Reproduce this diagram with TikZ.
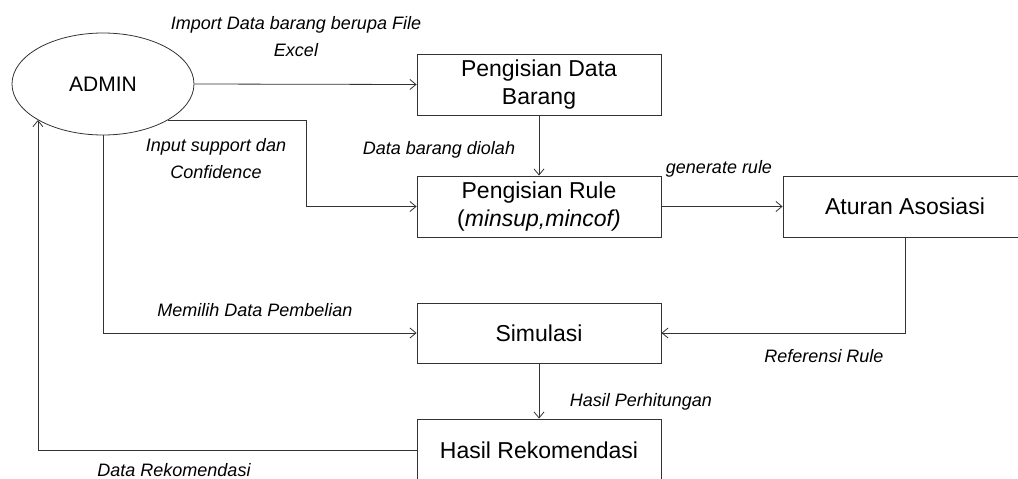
\documentclass[tikz,border=0pt]{standalone}
\usepackage{fontspec}
\setmainfont{Liberation Sans}
\usetikzlibrary{shapes.geometric,arrows.meta}
\definecolor{linecol}{HTML}{333333}
\tikzset{
  boxnode/.style={draw=linecol,line width=0.9pt,rectangle,minimum width=244pt,minimum height=61pt,inner sep=0pt,align=center,font=\fontsize{23}{28}\selectfont},
  lbl/.style={inner sep=0pt,align=center,font=\fontsize{18}{27}\selectfont\itshape},
  arr/.style={draw=linecol,line width=0.8pt,-{Straight Barb[length=6pt,width=10pt]}},
  conn/.style={draw=linecol,line width=0.8pt}
}
\begin{document}
\begin{tikzpicture}[x=1pt,y=-1pt]
\useasboundingbox (0,0) rectangle (1018,479);
\clip (0,0) rectangle (1018,479);
% nodes
\node[ellipse,draw=linecol,line width=0.8pt,minimum width=182pt,minimum height=102pt,inner sep=0pt,font=\fontsize{21}{25}\selectfont] (admin) at (103,84) {ADMIN};
\node[boxnode] (barang) at (539,84.5) {Pengisian Data\\Barang};
\node[boxnode] (rule) at (539,206.5) {Pengisian Rule\\(\textit{minsup,mincof)}};
\node[boxnode] (aturan) at (905,206.5) {Aturan Asosiasi};
\node[boxnode,minimum height=60pt] (simulasi) at (539,333) {Simulasi};
\node[boxnode,minimum height=62pt] (hasil) at (539,450) {Hasil Rekomendasi};
% helper coordinates
\coordinate (k1) at (306,0);
% connectors
\draw[arr] (admin.east) -- (barang.west);
\draw[arr] (barang.south) -- (rule.north);
\draw[arr] (admin.-29.4) -- (admin.-29.4 -| k1) |- (rule.west);
\draw[arr] (rule.east) -- (aturan.west);
\draw[arr] (aturan.south) |- (simulasi.east);
\draw[arr] (admin.south) |- (simulasi.west);
\draw[arr] (simulasi.south) -- (hasil.north);
\draw[arr] (hasil.west) -| (admin.-151);
% labels
\node[lbl] (l1) at (296,36.5) {Import Data barang berupa File\\Excel};
\node[lbl] (l2) at (439,150) {Data barang diolah};
\node[lbl] (l3) at (216,158.5) {Input support dan\\Confidence};
\node[lbl] (l4) at (719,169) {generate rule};
\node[lbl] (l5) at (255,310) {Memilih Data Pembelian};
\node[lbl] (l6) at (824,356) {Referensi Rule};
\node[lbl] (l7) at (641,402) {Hasil Perhitungan};
\node[lbl] (l8) at (174,470) {Data Rekomendasi};
\end{tikzpicture}
\end{document}
